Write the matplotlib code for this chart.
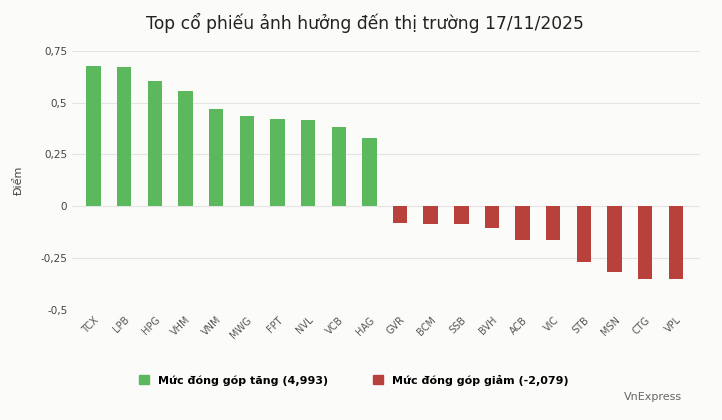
import matplotlib.pyplot as plt
from matplotlib.patches import Patch

tickers = ['TCX', 'LPB', 'HPG', 'VHM', 'VNM', 'MWG', 'FPT', 'NVL', 'VCB', 'HAG',
           'GVR', 'BCM', 'SSB', 'BVH', 'ACB', 'VIC', 'STB', 'MSN', 'CTG', 'VPL']
values = [0.677, 0.672, 0.605, 0.556, 0.469, 0.435, 0.421, 0.416, 0.382, 0.329,
          -0.082, -0.087, -0.087, -0.106, -0.164, -0.164, -0.271, -0.319, -0.353, -0.353]
yticks = [-0.5, -0.25, 0, 0.25, 0.5, 0.75]
ytick_labels = ['-0,5', '-0,25', '0', '0,25', '0,5', '0,75']

green = '#5cb85c'
red = '#b8413c'
bg = '#fbfbf9'

fig = plt.figure(figsize=(7.22, 4.20), dpi=100, facecolor=bg)
ax = fig.add_axes([0.1, 0.262, 0.87, 0.617], facecolor=bg)
colors = [green if v >= 0 else red for v in values]
ax.bar(range(len(tickers)), values, width=0.47, color=colors, zorder=3)

ax.set_ylim(-0.5, 0.75)
ax.set_xlim(-0.7, len(tickers) - 0.2)
ax.set_yticks(yticks)
ax.set_yticklabels(ytick_labels, fontsize=7.5, color='#444444')
ax.set_xticks(range(len(tickers)))
ax.set_xticklabels(tickers, rotation=45, ha='right', rotation_mode='anchor',
                   fontsize=7, color='#555555')
ax.grid(axis='y', color='#e4e4e4', linewidth=0.8, zorder=0)
for s in ax.spines.values():
    s.set_visible(False)
ax.tick_params(length=0)
ax.set_ylabel('Điểm', fontsize=8, color='#444444', labelpad=12)

fig.text(0.505, 0.945, 'Top cổ phiếu ảnh hưởng đến thị trường 17/11/2025',
         ha='center', va='center', fontsize=12.3, color='#222222')

handles = [Patch(color=green, label='Mức đóng góp tăng (4,993)'),
           Patch(color=red, label='Mức đóng góp giảm (-2,079)')]
fig.legend(handles=handles, loc='center', bbox_to_anchor=(0.49, 0.095), ncol=2,
           frameon=False, handlelength=0.9, handleheight=0.9, columnspacing=4,
           prop={'weight': 'bold', 'size': 8})
fig.text(0.945, 0.055, 'VnExpress', ha='right', va='center', fontsize=8, color='#666666')

fig.savefig('out.png', dpi=100, facecolor=bg)
